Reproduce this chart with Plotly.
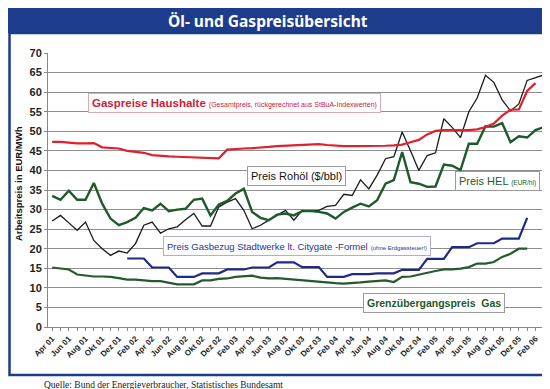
import plotly.graph_objects as go

# ---------------- data ----------------
month_names = ["Jan", "Feb", "Mrz", "Apr", "Mai", "Jun", "Jul", "Aug", "Sep", "Okt", "Nov", "Dez"]
months = []
y, m = 2001, 3
for _ in range(60):
    months.append(f"{month_names[m]} {str(y)[2:]}")
    m += 1
    if m == 12:
        m = 0
        y += 1

gas_haushalte = [47.3, 47.3, 47.1, 46.9, 46.9, 47.0, 45.9, 45.7, 45.6,
                 45.0, 44.8, 44.5, 43.9, 43.7, 43.6, 43.5, 43.4, 43.3, 43.2, 43.1, 43.1,
                 45.3, 45.5, 45.6, 45.7, 45.8, 46.0, 46.2, 46.3, 46.5, 46.6, 46.7, 46.7,
                 46.5, 46.3, 46.2, 46.2, 46.2, 46.2, 46.2, 46.3, 46.4, 46.6, 47.2, 47.8,
                 49.2, 50.1, 50.3, 50.3, 50.3, 50.3, 50.5, 51.1, 52.0, 54.0, 55.5, 55.6,
                 60.3, 62.3, None]

rohoel = [27.1, 28.5, 26.6, 24.7, 26.8, 22.1, 20.0, 18.3, 19.4,
          18.9, 21.3, 26.0, 26.8, 24.0, 25.1, 25.6, 27.4, 29.0, 25.8, 25.8, 30.7,
          31.9, 32.8, 29.8, 25.1, 26.0, 27.3, 28.5, 29.8, 27.3, 29.8, 29.6, 29.8,
          30.8, 31.1, 33.9, 33.6, 37.6, 35.3, 38.8, 43.0, 43.5, 49.8, 45.0, 40.0,
          43.8, 44.5, 53.2, 51.0, 48.4, 55.0, 58.5, 64.3, 62.5, 58.0, 55.2, 57.0,
          63.0, 63.7, 64.4]

hel = [33.5, 32.5, 34.8, 32.5, 32.5, 36.8, 31.5, 27.7, 26.0,
       26.8, 27.9, 30.4, 29.8, 31.5, 29.6, 30.0, 30.2, 32.5, 32.8, 28.5, 31.3,
       32.2, 34.1, 35.3, 29.4, 27.9, 27.3, 28.7, 29.0, 28.5, 29.6, 29.6, 29.4,
       29.0, 27.7, 29.4, 30.5, 31.5, 30.8, 32.4, 36.6, 37.5, 44.7, 37.0, 36.6,
       35.8, 35.9, 41.5, 41.2, 40.1, 46.8, 46.8, 51.3, 51.2, 52.1, 47.2, 48.7,
       48.4, 50.3, 51.1]

citygate = [None] * 9 + [
    17.5, 17.5, 17.5, 15.2, 15.2, 15.2, 12.8, 12.8, 12.8, 13.7, 13.7, 13.7,
    14.7, 14.7, 14.7, 15.2, 15.2, 15.2, 16.5, 16.5, 16.5, 15.3, 15.3, 15.3,
    12.8, 12.8, 12.8, 13.5, 13.5, 13.5, 13.7, 13.7, 13.7, 14.6, 14.6, 14.6,
    17.4, 17.4, 17.4, 20.4, 20.4, 20.4, 21.4, 21.4, 21.4, 22.6, 22.6, 22.6,
    27.9, None, None]

grenz = [15.2, 14.9, 14.7, 13.4, 13.2, 12.9, 12.9, 12.8, 12.5,
         12.1, 12.1, 11.9, 11.7, 11.7, 11.3, 10.9, 10.9, 10.9, 11.9, 11.9, 12.3,
         12.4, 12.8, 12.9, 13.1, 12.6, 12.4, 12.5, 12.3, 12.1, 11.9, 11.8, 11.6,
         11.4, 11.2, 11.1, 11.2, 11.4, 11.6, 11.8, 11.9, 11.5, 12.8, 12.9, 13.4,
         13.8, 14.3, 14.7, 14.7, 14.9, 15.3, 16.2, 16.2, 16.6, 17.9, 18.7, 20.0,
         20.0, None, None]

tick_text = [mo if i % 2 == 0 else "" for i, mo in enumerate(months)]

# ---------------- figure ----------------
FONT = "Arial, Liberation Sans, sans-serif"
BLUE_FRAME = "#1e3c8c"

fig = go.Figure()
fig.add_trace(go.Scatter(x=months, y=grenz, mode="lines",
                         line=dict(color="#245a2c", width=2.2), name="Grenzübergangspreis Gas"))
fig.add_trace(go.Scatter(x=months, y=citygate, mode="lines",
                         line=dict(color="#1f2a85", width=2.2), name="Citygate"))
fig.add_trace(go.Scatter(x=months, y=rohoel, mode="lines",
                         line=dict(color="#1a1a1a", width=1.3), name="Preis Rohöl"))
fig.add_trace(go.Scatter(x=months, y=hel, mode="lines",
                         line=dict(color="#1e5a2a", width=2.4), name="Preis HEL"))
fig.add_trace(go.Scatter(x=months, y=gas_haushalte, mode="lines",
                         line=dict(color="#e0202c", width=2.2), name="Gaspreise Haushalte"))

def px(x):
    return (x - 40) / 500.0

def py(y):
    return (319 - y) / 274.0

shapes = [
    # title bar
    dict(type="rect", xref="paper", yref="paper", x0=px(-5), x1=px(560), y0=py(25), y1=py(-5),
         fillcolor=BLUE_FRAME, line=dict(width=0), layer="below"),
    # frame
    dict(type="rect", xref="paper", yref="paper", x0=px(1.5), x1=px(546), y0=py(367), y1=py(25),
         fillcolor="rgba(0,0,0,0)", line=dict(color=BLUE_FRAME, width=2.5), layer="below"),
]

def box(text, cx, cy, color, border):
    return dict(text=text, xref="paper", yref="paper", x=px(cx), y=py(cy),
                xanchor="center", yanchor="middle", showarrow=False,
                font=dict(family=FONT, size=11, color=color),
                bgcolor="white", bordercolor=border, borderwidth=1, borderpad=3)

annotations = [
    dict(text="<b>Öl- und Gaspreisübersicht</b>", xref="paper", yref="paper",
         x=px(260), y=py(12.5), xanchor="center", yanchor="middle", showarrow=False,
         font=dict(family="Noto Sans, Open Sans, sans-serif", size=15.5, color="white")),
    dict(text="<b>Arbeitspreis in EUR/MWh</b>", xref="paper", yref="paper",
         x=px(10), y=py(176), xanchor="center", yanchor="middle", showarrow=False,
         textangle=-90, font=dict(family=FONT, size=9.5, color="#111")),
    dict(text="Quelle: Bund der Energieverbraucher, Statistisches Bundesamt", xref="paper", yref="paper",
         x=px(34), y=py(377), xanchor="left", yanchor="middle", showarrow=False,
         font=dict(family="Liberation Serif, Times New Roman, serif", size=9.5, color="#222")),
    box("<b><span style='font-size:11.5px'>Gaspreise Haushalte</span></b> <span style='font-size:7px'>(Gesamtpreis, rückgerechnet aus StBuA-Indexwerten)</span>",
        226, 95, "#cf2038", "#d8aab2"),
    box("Preis Rohöl ($/bbl)", 288.5, 168, "#111", "#9a9a9a"),
    box("Preis HEL <span style='font-size:6.5px'>(EUR/hl)</span>", 489.5, 172.5, "#1e5a2a", "#9a9a9a"),
    box("<span style='font-size:9.5px'>Preis Gasbezug Stadtwerke lt. Citygate -Formel</span> <span style='font-size:6px'>(ohne Erdgassteuer!)</span>",
        288.5, 237.5, "#25358f", "#b0b0c8"),
    box("<b><span style='font-size:10.5px'>Grenzübergangspreis  Gas</span></b>", 426, 295, "#1e5a2a", "#9a9a9a"),
]

fig.update_layout(
    width=550, height=389,
    margin=dict(l=40, r=10, t=45, b=70),
    paper_bgcolor="white", plot_bgcolor="white",
    showlegend=False,
    shapes=shapes,
    annotations=annotations,
    font=dict(family=FONT),
)

fig.update_xaxes(
    type="category", categoryorder="array", categoryarray=months,
    range=[-0.5, 59.5],
    tickmode="array", tickvals=months, ticktext=tick_text,
    tickangle=-45, tickfont=dict(family=FONT, size=8, color="#222", weight="bold"),
    ticks="outside", ticklen=3, tickcolor="#888",
    showline=True, linecolor="#888", linewidth=1,
    showgrid=False, zeroline=False,
)
fig.update_yaxes(
    range=[0, 70], dtick=5, tick0=0,
    tickfont=dict(family=FONT, size=11, color="#222", weight="bold"),
    ticks="outside", ticklen=3, tickcolor="#888",
    showline=True, linecolor="#888", linewidth=1,
    showgrid=True, gridcolor="#8f8f8f", gridwidth=1.2, zeroline=False,
)

fig.write_html("out.html")
